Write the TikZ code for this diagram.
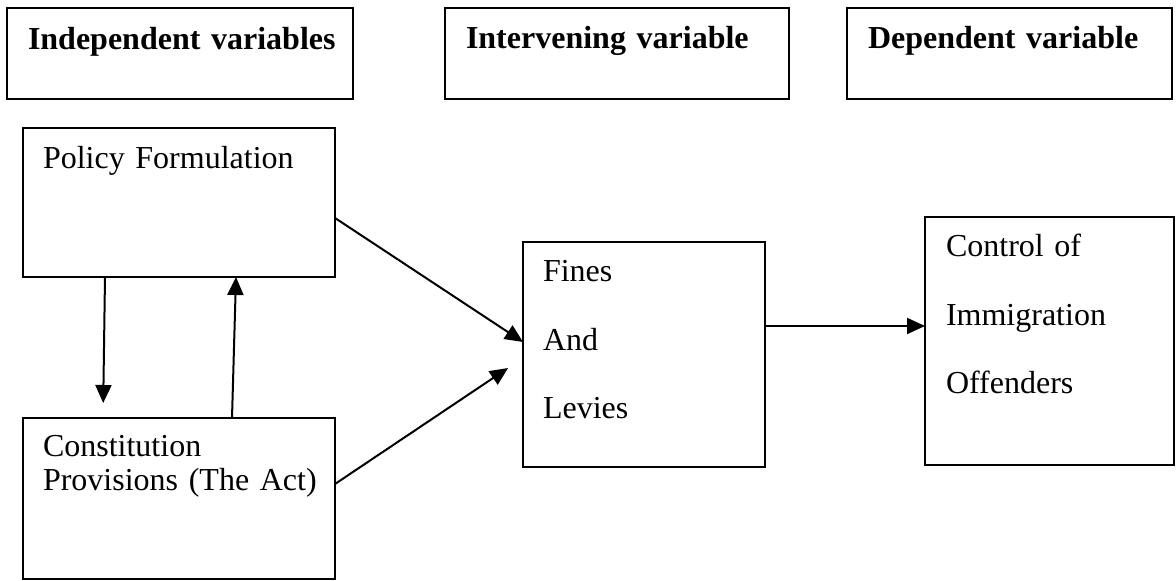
\documentclass[tikz,border=0pt]{standalone}
\usepackage{fontspec}
\setmainfont{Liberation Serif}
\usetikzlibrary{arrows.meta, positioning}
\tikzset{
  >={Triangle[length=9pt,width=8pt]},
  every node/.style={outer sep=0pt},
  box/.style={draw, line width=1pt, inner sep=0pt, anchor=north west},
  hdrbox/.style={box, minimum height=45.5pt},
  txt/.style={anchor=base west, inner sep=0pt, text width=160pt, align=left,
    font=\fontsize{16}{16.75}\selectfont},
  hdrtxt/.style={txt, font=\fontsize{16}{16.75}\selectfont\bfseries},
  spread/.style={txt, font=\fontsize{16}{34.25}\selectfont},
  link/.style={->, line width=1pt}
}
\begin{document}
\begin{tikzpicture}[x=0.5pt, y=-0.5pt]
    \useasboundingbox (0,0) rectangle (1176,581);

    \node[hdrbox, minimum width=173pt] (indep) at (7,8) {};
    \node[hdrbox, minimum width=172pt] (interv) [right=46pt of indep] {};
    \node[hdrbox, minimum width=162.5pt] (dep) [right=29pt of interv] {};
    \node[hdrtxt] (indep-txt) at ([xshift=10.5pt, yshift=-21pt]indep.north west) {Independent variables};
    \node[hdrtxt] (interv-txt) at ([xshift=10.5pt, yshift=-20.5pt]interv.north west) {Intervening variable};
    \node[hdrtxt] (dep-txt) at ([xshift=10.5pt, yshift=-20.5pt]dep.north west) {Dependent variable};

    \node[box, minimum width=156pt, minimum height=74.5pt] (policy) at (23,128) {};
    \node[box, minimum width=156pt, minimum height=80.5pt] (constit) [below=70.5pt of policy] {};
    \node[box, minimum width=121pt, minimum height=112.5pt] (fines) at (523,242) {};
    \node[box, minimum width=124.5pt, minimum height=124pt] (control) at (925,217) {};

    \node[txt] (policy-txt) at ([xshift=10pt, yshift=-20.5pt]policy.north west) {Policy Formulation};
    \node[txt] (constit-txt) at ([xshift=10pt, yshift=-19.5pt]constit.north west) {Constitution\\Provisions (The Act)};
    \node[spread] (fines-txt) at ([xshift=10pt, yshift=-20pt]fines.north west) {Fines\\And\\Levies};
    \node[spread] (control-txt) at ([xshift=10.5pt, yshift=-20pt]control.north west) {Control of\\Immigration\\Offenders};

    \draw[link, shorten >=7.5pt] ([xshift=-37pt]policy.south) -- ([xshift=-38pt]constit.north);
    \draw[link] ([xshift=26.5pt]constit.north) -- ([xshift=28.5pt]policy.south);
    \draw[link] ([yshift=-7.75pt]policy.east) -- ([yshift=6.25pt]fines.west);
    \draw[link, shorten >=9pt] ([yshift=7.25pt]constit.east) -- ([yshift=-1.75pt]fines.west);
    \draw[link] ([yshift=14.25pt]fines.east) -- ([yshift=7.5pt]control.west);
\end{tikzpicture}
\end{document}
